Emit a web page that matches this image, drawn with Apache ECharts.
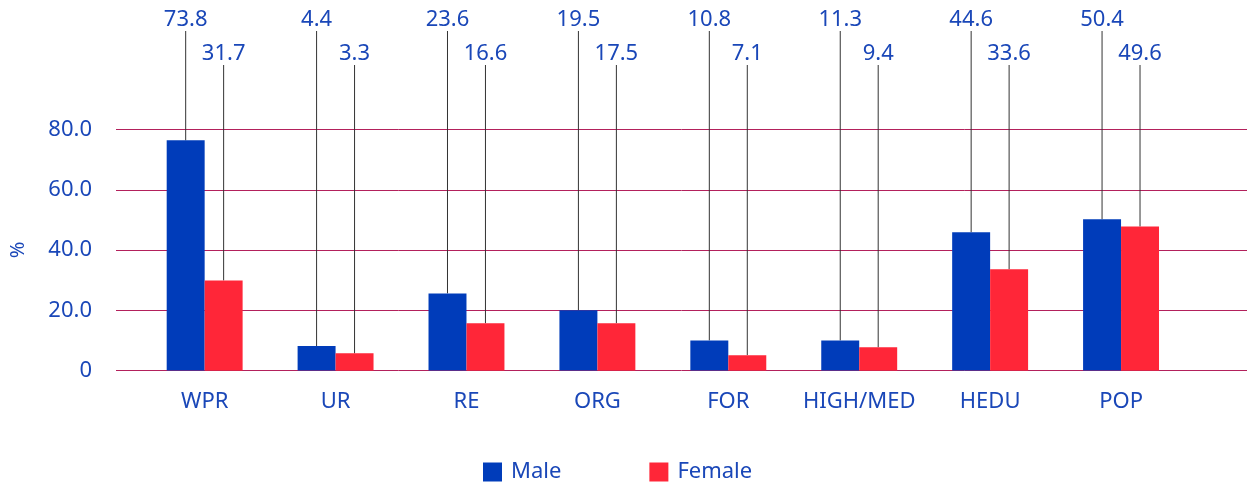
<!DOCTYPE html>
<html>
<head>
<meta charset="utf-8">
<script src="https://cdn.jsdelivr.net/npm/echarts@6/dist/echarts.min.js"></script>
<style>
  html, body { margin: 0; padding: 0; background: #fff; }
  #main { width: 1250px; height: 486px; }
</style>
</head>
<body>
<div id="main"></div>
<script>
// categories and values
var categories = ['WPR', 'UR', 'RE', 'ORG', 'FOR', 'HIGH/MED', 'HEDU', 'POP'];
var maleValues = [76.4, 8.1, 25.6, 20.0, 10.0, 10.0, 45.9, 50.2];
var femaleValues = [29.9, 5.7, 15.7, 15.7, 5.1, 7.7, 33.6, 47.8];
// numbers printed above the bars
var maleLabels = [73.8, 4.4, 23.6, 19.5, 10.8, 11.3, 44.6, 50.4];
var femaleLabels = [31.7, 3.3, 16.6, 17.5, 7.1, 9.4, 33.6, 49.6];
var yTicks = [0, 20, 40, 60, 80];

var textColor = '#1a47b8';
var font = 'Noto Sans';

var myChart = echarts.init(document.getElementById('main'));

function topLabel(labels) {
    return {
        show: true,
        position: 'top',
        color: textColor,
        fontFamily: font,
        fontSize: 22,
        padding: [0, 0, 10, 0],
        formatter: function (p) { return labels[p.dataIndex].toFixed(1); }
    };
}

// put the label at a fixed height straight above the bar centre
function fixedY(y) {
    return function (params) {
        return {
            x: params.rect.x + params.rect.width / 2,
            y: y,
            align: 'center',
            verticalAlign: 'middle'
        };
    };
}

myChart.setOption({
    animation: false,
    textStyle: { fontFamily: font },
    grid: [
        // wide grid only for the horizontal lines and the y labels
        { left: 113, right: 3, top: 129.5, bottom: 115.5 },
        // grid holding the bars
        { left: 139.2, right: 63.5, top: 129.5, bottom: 115.5 }
    ],
    legend: {
        data: ['Male', 'Female'],
        left: 478,
        top: 456,
        itemWidth: 19,
        itemHeight: 19,
        itemGap: 88,
        icon: 'rect',
        textStyle: { color: textColor, fontSize: 22, fontFamily: font, padding: [0, 0, 0, 4] }
    },
    xAxis: [
        { gridIndex: 0, type: 'value', show: false, min: 0, max: 1 },
        {
            gridIndex: 1,
            type: 'category',
            data: categories,
            axisLine: { show: false },
            axisTick: { show: false },
            axisLabel: { color: textColor, fontSize: 22, fontFamily: font, margin: 20, interval: 0 }
        }
    ],
    yAxis: [
        {
            gridIndex: 0,
            type: 'value',
            min: yTicks[0],
            max: yTicks[yTicks.length - 1],
            interval: 20,
            name: '%',
            nameLocation: 'middle',
            nameGap: 88,
            nameTextStyle: { color: textColor, fontSize: 20, fontFamily: font },
            axisLine: { show: false },
            axisTick: { show: false },
            axisLabel: {
                color: textColor, fontSize: 22, fontFamily: font, margin: 24,
                formatter: function (v) { return v === 0 ? '0' : v.toFixed(1); }
            },
            splitLine: { lineStyle: { color: '#b3215c', width: 1 } }
        },
        { gridIndex: 1, type: 'value', min: 0, max: 80, interval: 20, show: false, splitLine: { show: false } }
    ],
    series: [
        {
            name: 'Male',
            type: 'bar',
            xAxisIndex: 1,
            yAxisIndex: 1,
            data: maleValues,
            barGap: '0%',
            barCategoryGap: '42%',
            itemStyle: { color: '#003cba' },
            label: topLabel(maleLabels),
            labelLayout: fixedY(20),
            labelLine: { show: true, lineStyle: { color: '#333', width: 1 } }
        },
        {
            name: 'Female',
            type: 'bar',
            xAxisIndex: 1,
            yAxisIndex: 1,
            data: femaleValues,
            itemStyle: { color: '#ff2638' },
            label: topLabel(femaleLabels),
            labelLayout: fixedY(54),
            labelLine: { show: true, lineStyle: { color: '#333', width: 1 } }
        }
    ]
});
</script>
</body>
</html>
